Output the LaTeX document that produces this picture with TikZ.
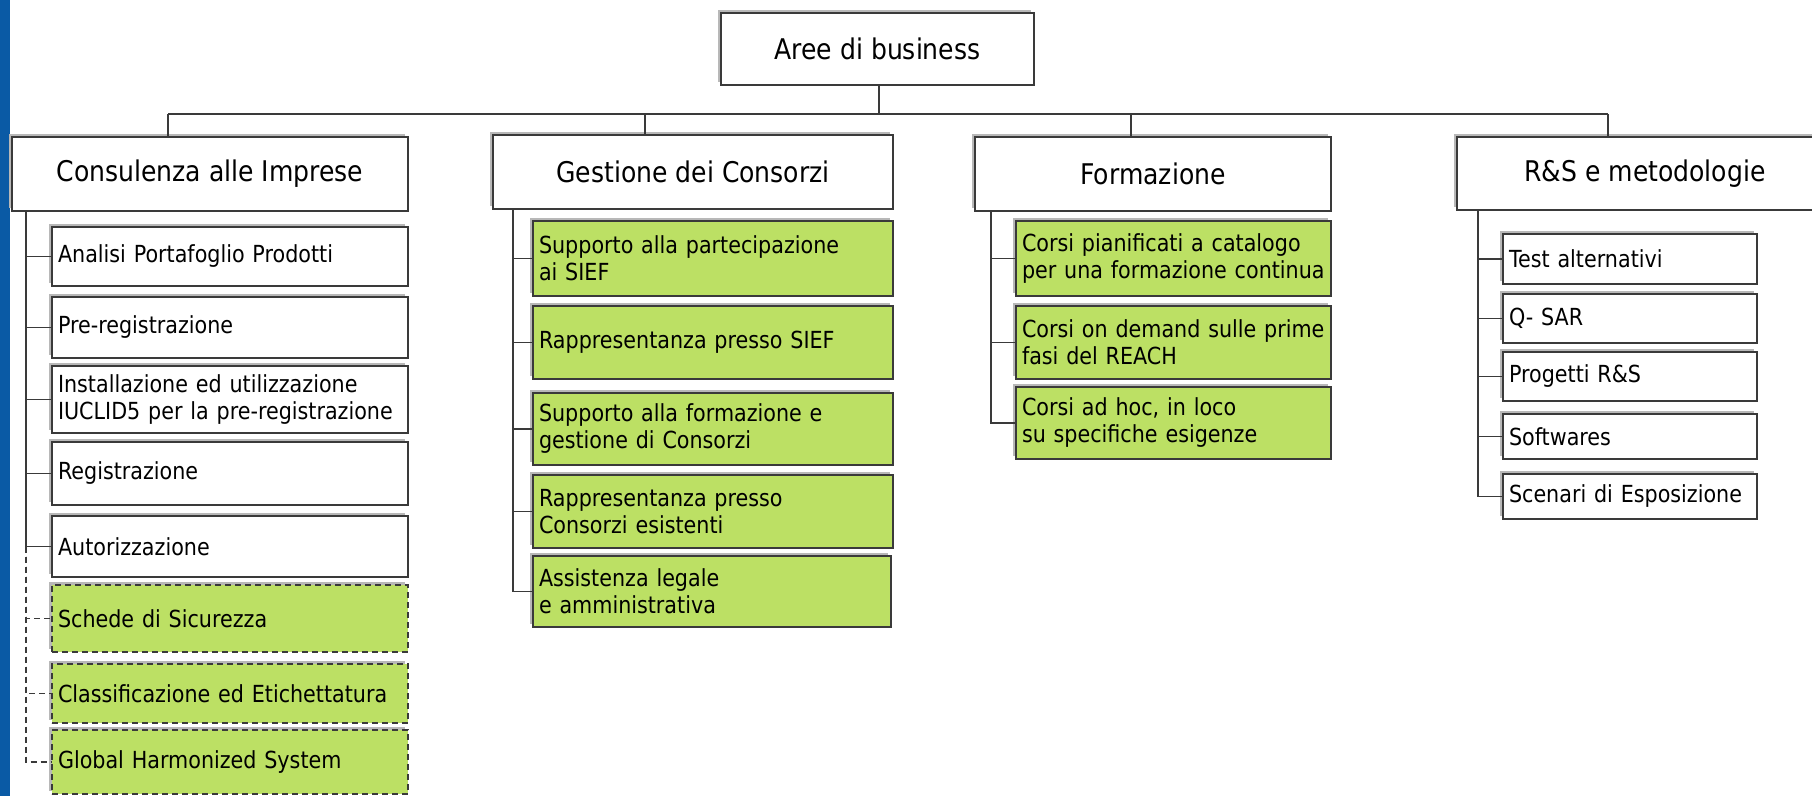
\documentclass[tikz,border=0pt]{standalone}
\usepackage{fontspec}
\setmainfont{DejaVu Sans}[FakeStretch=0.88]
\usetikzlibrary{shadows}
\definecolor{boxline}{HTML}{3A3A3A}
\definecolor{leaf}{HTML}{BCE064}
\definecolor{shade}{HTML}{B8B8B8}
\definecolor{barblue}{HTML}{0A5AA5}
\tikzset{
  box/.style={draw=boxline, line width=1.5pt, fill=white,
    general shadow={fill=shade, shadow xshift=-3pt, shadow yshift=3pt},
    anchor=north west, inner ysep=0pt, outer sep=0pt},
  head/.style={box, font=\fontsize{28.5}{33}\selectfont, align=center},
  leafw/.style={box, font=\fontsize{23.5}{27}\selectfont, align=left, inner xsep=6pt},
  leafg/.style={leafw, fill=leaf},
  leafd/.style={leafg, dash pattern=on 6pt off 4pt},
  conn/.style={draw=boxline, line width=1.3pt},
  dconn/.style={conn, dash pattern=on 6pt off 4pt}
}
\begin{document}
\begin{tikzpicture}[x=1pt,y=-1pt]
\useasboundingbox (0,0) rectangle (1812,796);
\fill[white] (0,0) rectangle (1812,796);
\fill[barblue] (0,0) rectangle (10,796);

% top level
\node[head, minimum width=313, minimum height=72] (top) at (721,13) {Aree di business};
\node[head, minimum width=396, minimum height=74] (c1) at (12,137) {Consulenza alle Imprese};
\node[head, minimum width=400, minimum height=74] (c2) at (493,135) {Gestione dei Consorzi};
\node[head, minimum width=356, minimum height=74] (c3) at (975,137) {Formazione};
\node[head, minimum width=376, minimum height=73] (c4) at (1457,137) {R\&S e metodologie};

% Consulenza
\node[leafw, text width=344, minimum height=59] (c1a) at (52,227) {Analisi Portafoglio Prodotti};
\node[leafw, text width=344, minimum height=61] (c1b) at (52,297) {Pre-registrazione};
\node[leafw, text width=344, minimum height=67] (c1c) at (52,366) {Installazione ed utilizzazione\\IUCLID5 per la pre-registrazione};
\node[leafw, text width=344, minimum height=63] (c1d) at (52,442) {Registrazione};
\node[leafw, text width=344, minimum height=61] (c1e) at (52,516) {Autorizzazione};
\node[leafd, text width=344, minimum height=67] (c1f) at (52,585) {Schede di Sicurezza};
\node[leafd, text width=344, minimum height=59] (c1g) at (52,664) {Classificazione ed Etichettatura};
\node[leafd, text width=344, minimum height=64] (c1h) at (52,730) {Global Harmonized System};

% Gestione
\node[leafg, text width=348, minimum height=75] (c2a) at (533,221) {Supporto alla partecipazione\\ai SIEF};
\node[leafg, text width=348, minimum height=73] (c2b) at (533,306) {Rappresentanza presso SIEF};
\node[leafg, text width=348, minimum height=72] (c2c) at (533,393) {Supporto alla formazione e\\gestione di Consorzi};
\node[leafg, text width=348, minimum height=73] (c2d) at (533,475) {Rappresentanza presso\\Consorzi esistenti};
\node[leafg, text width=346, minimum height=71] (c2e) at (533,556) {Assistenza legale\\e amministrativa};

% Formazione
\node[leafg, text width=303, minimum height=75] (c3a) at (1016,221) {Corsi pianificati a catalogo\\per una formazione continua};
\node[leafg, text width=303, minimum height=73] (c3b) at (1016,306) {Corsi on demand sulle prime\\fasi del REACH};
\node[leafg, text width=303, minimum height=72] (c3c) at (1016,387) {Corsi ad hoc, in loco\\su specifiche esigenze};

% R&S
\node[leafw, text width=242, minimum height=50] (c4a) at (1503,234) {Test alternativi};
\node[leafw, text width=242, minimum height=49] (c4b) at (1503,294) {Q- SAR};
\node[leafw, text width=242, minimum height=49] (c4c) at (1503,352) {Progetti R\&S};
\node[leafw, text width=242, minimum height=45] (c4d) at (1503,414) {Softwares};
\node[leafw, text width=242, minimum height=45] (c4e) at (1503,474) {Scenari di Esposizione};

% bus
\coordinate (bus) at (879,114);
\coordinate (d1) at (168,114);
\coordinate (d2) at (645,114);
\coordinate (d3) at (1131,114);
\coordinate (d4) at (1608,114);
\draw[conn] (top.south -| bus) -- (bus);
\draw[conn] (d1) -- (d4);
\draw[conn] (d1) -- (d1 |- c1.north);
\draw[conn] (d2) -- (d2 |- c2.north);
\draw[conn] (d3) -- (d3 |- c3.north);
\draw[conn] (d4) -- (d4 |- c4.north);

% vertical trunks
\coordinate (v1) at (26,211);
\coordinate (v2) at (513,209);
\coordinate (v3) at (991,211);
\coordinate (v4) at (1478,210);

\foreach \n in {c1a,c1b,c1c,c1d,c1e} \draw[conn] (v1) |- (\n.west);
\foreach \n in {c1f,c1g,c1h} \draw[dconn] (v1 |- c1e.west) |- (\n.west);
\foreach \n in {c2a,c2b,c2c,c2d,c2e} \draw[conn] (v2) |- (\n.west);
\foreach \n in {c3a,c3b,c3c} \draw[conn] (v3) |- (\n.west);
\foreach \n in {c4a,c4b,c4c,c4d,c4e} \draw[conn] (v4) |- (\n.west);
\end{tikzpicture}
\end{document}
